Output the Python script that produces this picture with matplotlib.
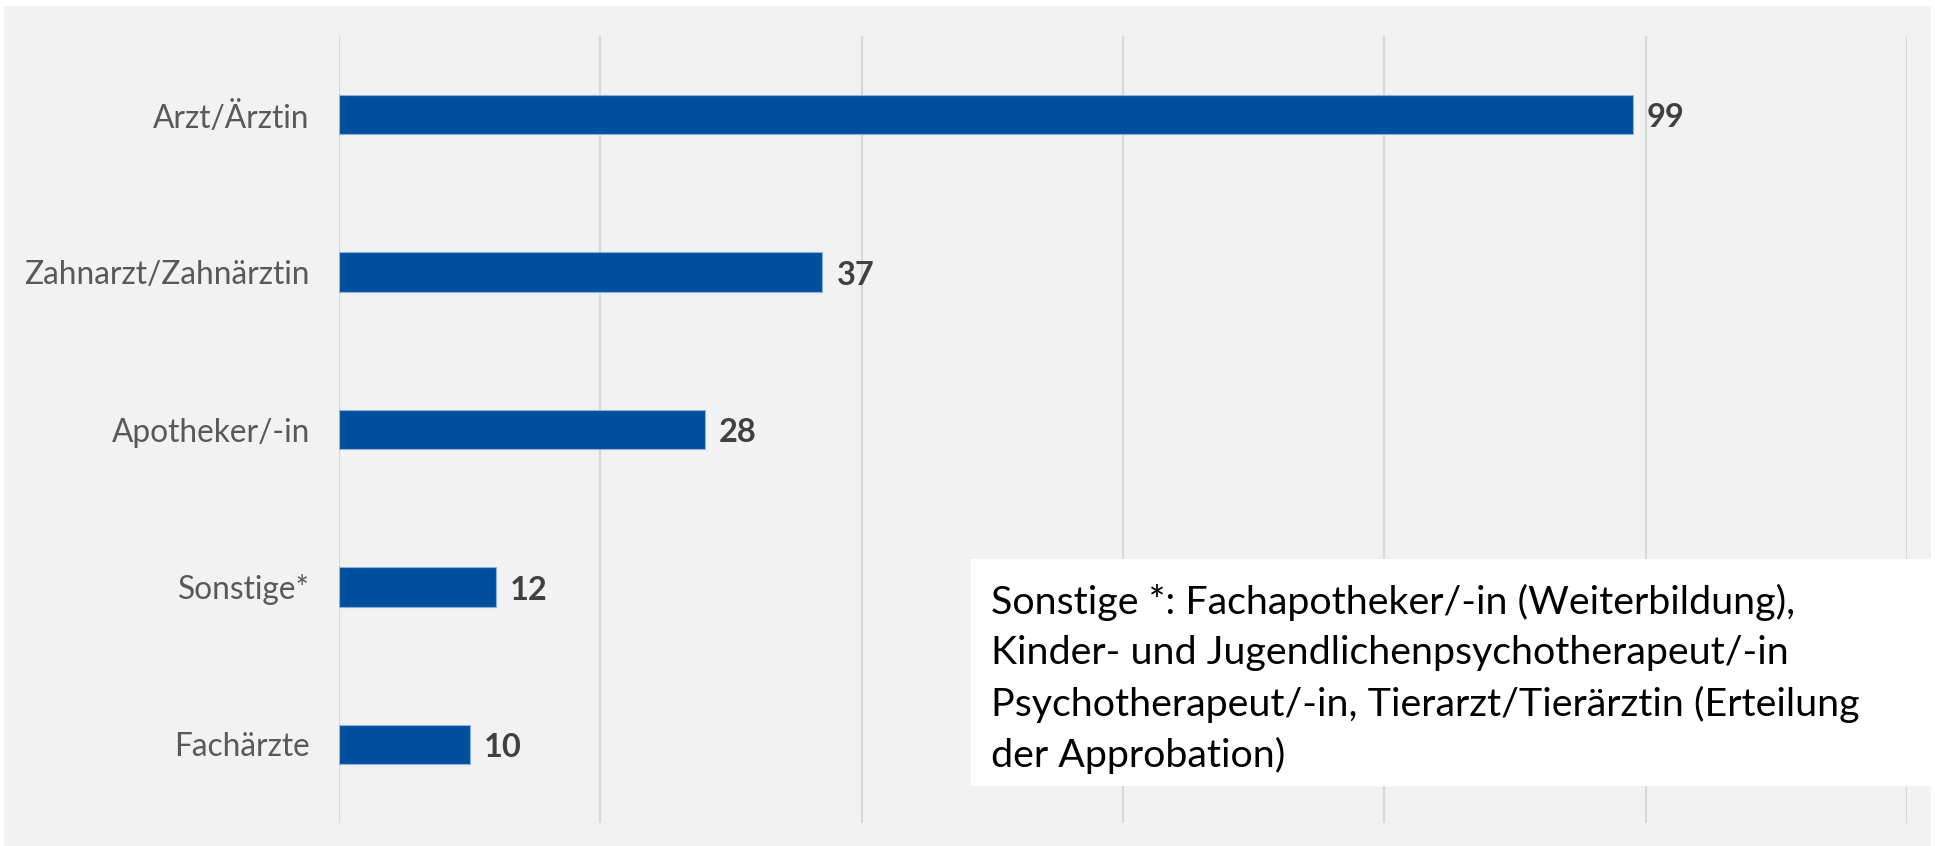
import matplotlib.pyplot as plt
from matplotlib.patches import Rectangle

categories = ['Arzt/Ärztin', 'Zahnarzt/Zahnärztin', 'Apotheker/-in', 'Sonstige*', 'Fachärzte']
values = [99, 37, 28, 12, 10]
xticks = [0, 20, 40, 60, 80, 100, 120]
note = ('Sonstige *: Fachapotheker/-in (Weiterbildung),\n'
        'Kinder- und Jugendlichenpsychotherapeut/-in\n'
        'Psychotherapeut/-in, Tierarzt/Tierärztin (Erteilung\n'
        'der Approbation)')

W, H = 1935, 846
fig = plt.figure(figsize=(W / 100, H / 100), dpi=100, facecolor='white')
fig.patches.append(Rectangle((4 / W, 0), 1927 / W, 840 / H,
                             transform=fig.transFigure, facecolor='#f2f2f2',
                             edgecolor='none', zorder=-5))

ax = fig.add_axes([339 / W, 1 - 823 / H, (1907 - 339) / W, (823 - 36) / H])
ax.set_facecolor('none')
ax.set_zorder(1)

y = list(range(len(categories)))
ax.barh(y, values, height=0.25, color='#004f9f', edgecolor='#8fb0d8', linewidth=0.8, zorder=3)
ax.set_ylim(len(categories) - 0.5, -0.5)
ax.set_xlim(0, 120)
ax.set_xticks(xticks)
ax.xaxis.grid(True, color='#d9d9d9', linewidth=1.6, zorder=0)
ax.set_xticklabels([])
ax.tick_params(axis='both', length=0)
ax.set_yticks(y)
ax.set_yticklabels(categories, fontsize=22.8, color='#595959', family=['Lato', 'DejaVu Sans'])
ax.tick_params(axis='y', pad=21)
for s in ax.spines.values():
    s.set_visible(False)

for yi, v in zip(y, values):
    ax.text(v + 1.1, yi + 0.02, str(v), va='center', ha='left', fontsize=23.5, fontweight='bold',
            color='#404040', family=['Lato', 'DejaVu Sans'])

box = Rectangle((971 / W, 1 - 786 / H), (1935 - 971) / W, (786 - 559) / H,
                transform=fig.transFigure, facecolor='white', edgecolor='none', zorder=5)
fig.patches.append(box)
fig.text(991 / W, 1 - 679 / H, note, ha='left', va='center', fontsize=28.4,
         linespacing=1.48, color='black', zorder=6, family=['Lato', 'DejaVu Sans'])

fig.savefig('out.png', dpi=100, facecolor='white')
